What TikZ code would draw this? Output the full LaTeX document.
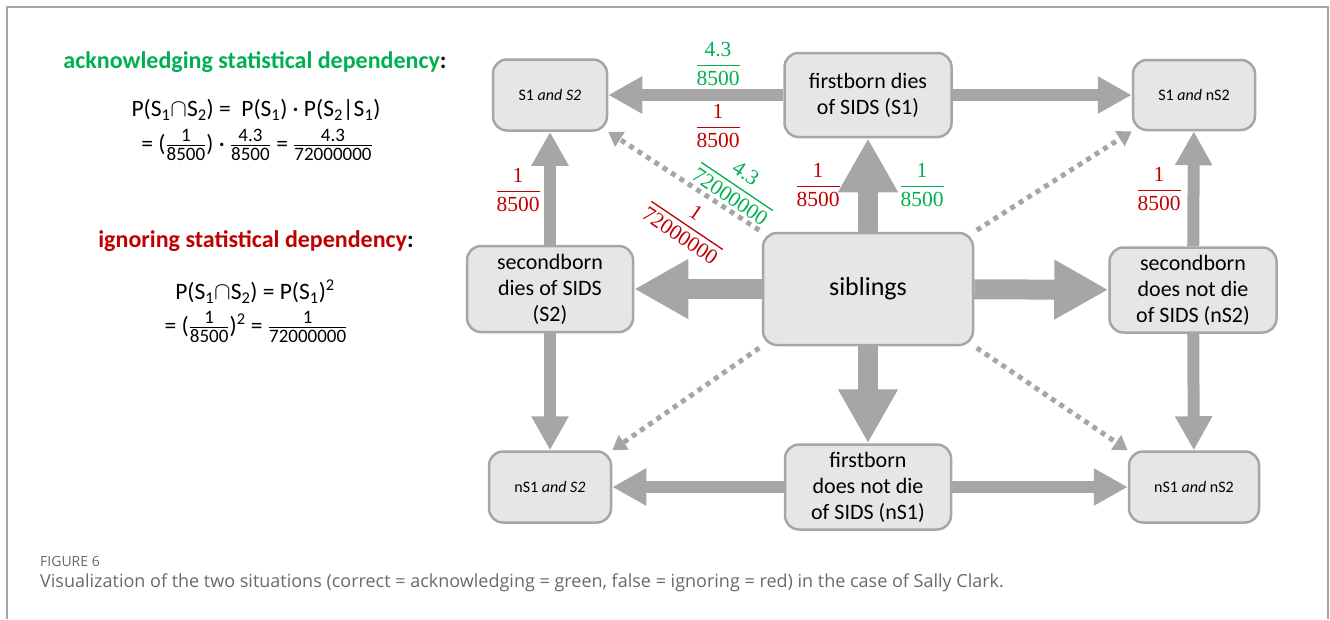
\documentclass[tikz,border=0pt]{standalone}
\usepackage{amsmath}
\usepackage{fontspec}
\setmainfont{Carlito}
\newfontfamily\numfont{Liberation Serif}
\newfontfamily\capfont{Open Sans}
\usetikzlibrary{arrows.meta,backgrounds}

\definecolor{boxfill}{RGB}{231,230,230}
\definecolor{boxline}{RGB}{166,166,166}
\definecolor{arrowgray}{RGB}{166,166,166}
\definecolor{accgreen}{RGB}{0,176,80}
\definecolor{ignred}{RGB}{192,0,0}
\definecolor{framegray}{RGB}{165,165,165}
\definecolor{capgray}{RGB}{105,105,105}

% fractions: big ones in the diagram, small ones in the formulas
\newcommand{\fr}[2]{$\genfrac{}{}{1.3pt}{0}{\text{#1}}{\text{#2}}$}
\newcommand{\numsize}{\fontsize{19}{22}\selectfont}
\newcommand{\sfr}[2]{$\genfrac{}{}{1.2pt}{1}{\text{\numsize#1}}{\text{\numsize#2}}$}
\newcommand{\Sub}[2]{#1$_\text{#2}$}

\begin{document}
\begin{tikzpicture}[x=1pt,y=-1pt,
  box/.style={draw=boxline,fill=boxfill,line width=2.5pt,rounded corners=14pt,
    align=center,inner sep=2pt,font=\fontsize{22}{26}\selectfont},
  smallbox/.style={box,font=\fontsize{16}{19}\selectfont},
  bigarrow/.style={draw=arrowgray,line width=20pt,-{Triangle[length=54pt,width=56pt]}},
  midarrow/.style={draw=arrowgray,line width=12pt,-{Triangle[length=34pt,width=35pt]}},
  dotarrow/.style={draw=arrowgray,line width=5pt,dash pattern=on 5pt off 5pt,
    shorten <=3pt,-{Triangle[length=14pt,width=17pt]}},
  redfrac/.style={text=ignred,inner sep=0pt,font=\numfont\fontsize{21.5}{24}\selectfont},
  greenfrac/.style={redfrac,text=accgreen},
  formula/.style={inner sep=0pt,font=\fontsize{23.5}{27}\selectfont},
  heading/.style={inner sep=0pt,font=\bfseries\fontsize{24}{28}\selectfont}]
\useasboundingbox (0,0) rectangle (1330,619);
\draw[framegray,line width=1.5pt] (7,619) -- (7,7) -- (1328,7) -- (1328,619);

% left: the two formulas
\node[heading,text=accgreen] (hacc) at (255,62) {acknowledging statistical dependency\textcolor{black}{:}};
\node[formula] (facca) at (256,110) {P(\Sub{S}{1}$\cap$\Sub{S}{2}) =\ \ P(\Sub{S}{1}) · P(\Sub{S}{2}|\Sub{S}{1})};
\node[formula] (faccb) at (257,145) {= (\sfr{1}{8500}) · \sfr{4.3}{8500} = \sfr{4.3}{72000000}};
\node[heading,text=ignred] (hign) at (256,241) {ignoring statistical dependency\textcolor{black}{:}};
\node[formula] (figna) at (255,292) {P(\Sub{S}{1}$\cap$\Sub{S}{2}) = P(\Sub{S}{1})$^\text{2}$};
\node[formula] (fignb) at (256,327) {= (\sfr{1}{8500})$^\text{2}$ = \sfr{1}{72000000}};

% diagram
\node[smallbox,minimum width=114pt,minimum height=71pt] (s1s2) at (550,95) {S1 \textit{and S2}};
\node[box,minimum width=167pt,minimum height=84pt] (s1) at (868,95) {firstborn dies\\of SIDS (S1)};
\node[smallbox,minimum width=122pt,minimum height=70pt] (s1ns2) at (1194,95) {S1 \textit{and} nS2};
\node[box,minimum width=166pt,minimum height=86pt] (s2) at (550,289) {secondborn\\dies of SIDS\\(S2)};
\node[box,minimum width=210pt,minimum height=112pt,font=\fontsize{26}{30}\selectfont] (sib) at (868,289) {siblings};
\node[box,minimum width=167pt,minimum height=85pt] (ns2) at (1193,290) {secondborn\\does not die\\of SIDS (nS2)};
\node[smallbox,minimum width=122pt,minimum height=71pt] (ns1s2) at (550,487) {nS1 \textit{and S2}};
\node[box,minimum width=166pt,minimum height=85pt] (ns1) at (868,487) {firstborn\\does not die\\of SIDS (nS1)};
\node[smallbox,minimum width=130pt,minimum height=71pt] (ns1ns2) at (1194,487) {nS1 \textit{and} nS2};

\draw[bigarrow] (sib) -- (s1);
\draw[bigarrow] (sib) -- (s2);
\draw[bigarrow] (sib) -- (ns2);
\draw[bigarrow] (sib) -- (ns1);
\draw[midarrow] (s1) -- (s1s2);
\draw[midarrow] (s1) -- (s1ns2);
\draw[midarrow] (s2) -- (s1s2);
\draw[midarrow] (s2) -- (ns1s2);
\draw[midarrow] (ns2) -- (s1ns2);
\draw[midarrow] (ns2) -- (ns1ns2);
\draw[midarrow] (ns1) -- (ns1s2);
\draw[midarrow] (ns1) -- (ns1ns2);
\begin{scope}[on background layer]
\draw[dotarrow] (sib.north west) -- (s1s2.south east);
\draw[dotarrow] (sib.north east) -- (s1ns2.south west);
\draw[dotarrow] (sib.south west) -- (ns1s2.north east);
\draw[dotarrow] (sib.south east) -- (ns1ns2.north west);
\end{scope}

% probabilities
\node[greenfrac] (pga) at (718,64) {\fr{4.3}{8500}};
\node[redfrac] (pra) at (718,126) {\fr{1}{8500}};
\node[redfrac] (prb) at (518,190) {\fr{1}{8500}};
\node[redfrac] (prc) at (818,185) {\fr{1}{8500}};
\node[greenfrac] (pgb) at (922,185) {\fr{1}{8500}};
\node[redfrac] (prd) at (1159,189) {\fr{1}{8500}};
\node[greenfrac,rotate=-34] (pgc) at (738,185) {\fr{4.3}{72000000}};
\node[redfrac,rotate=-34] (pre) at (688,224) {\fr{1}{72000000}};

% caption
\node[anchor=west,inner sep=0pt,text=capgray,font=\capfont\fontsize{14}{16}\selectfont] (fig) at (40,561) {FIGURE 6};
\node[anchor=west,inner sep=0pt,text=capgray,font=\capfont\fontsize{18}{21}\selectfont] (cap) at (40,583)
  {Visualization of the two situations (correct = acknowledging = green, false = ignoring = red) in the case of Sally Clark.};
\end{tikzpicture}
\end{document}
